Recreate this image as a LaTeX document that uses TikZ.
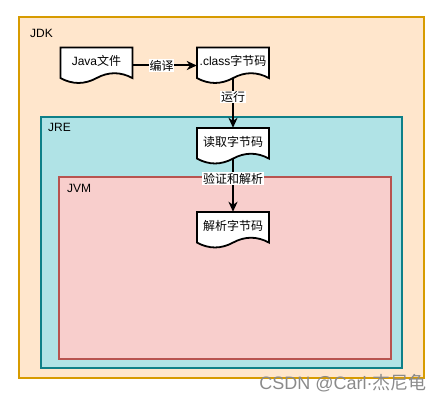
\documentclass[tikz,border=0pt]{standalone}
\usepackage{fontspec}
\setmainfont{Liberation Sans}
\newfontfamily\cjkf{Noto Sans CJK SC}
\newcommand\zh[1]{{\cjkf #1}}
\usetikzlibrary{arrows.meta,calc}
\definecolor{jdkfill}{HTML}{FFE6CC}
\definecolor{jdkline}{HTML}{D79B00}
\definecolor{jrefill}{HTML}{B0E3E6}
\definecolor{jreline}{HTML}{0E8088}
\definecolor{jvmfill}{HTML}{F8CECC}
\definecolor{jvmline}{HTML}{B85450}
\definecolor{wmgray}{HTML}{8A8A8A}
\tikzset{
  txt/.style={font=\fontsize{12}{14}\selectfont, inner sep=0pt},
  docbox/.style={minimum width=72pt, minimum height=36pt, inner sep=0pt},
  docline/.style={draw=black, fill=white, line width=1.8pt, line join=miter},
  conn/.style={line width=2pt, -{Stealth[length=10pt,width=9pt,inset=3pt]}},
  elabel/.style={txt, fill=white, inner sep=0.8pt},
  area/.style={line width=2pt},
}
\newcommand\docshape[1]{%
  \draw[docline] ($(#1.center)+(-36,-18)$) -- ($(#1.center)+(36,-18)$) -- ($(#1.center)+(36,12.6)$)
    .. controls ($(#1.center)+(24,6.1)$) and ($(#1.center)+(12,6.1)$) .. ($(#1.center)+(0,12.6)$)
    .. controls ($(#1.center)+(-12,19.1)$) and ($(#1.center)+(-24,19.1)$) .. ($(#1.center)+(-36,12.6)$) -- cycle;
  \coordinate (#1-w) at ($(#1.center)+(0,12.6)$);
}
\begin{document}
\begin{tikzpicture}[x=1pt,y=-1pt]
\useasboundingbox (0,0) rectangle (444,401);
% containers
\draw[area, draw=jdkline, fill=jdkfill] (18.5,17.5) rectangle (424,378);
\draw[area, draw=jreline, fill=jrefill] (41,117) rectangle (402,367.5);
\draw[area, draw=jvmline, fill=jvmfill] (59,177) rectangle (391,359);
\node[txt, anchor=west] (jdk) at (30,33) {JDK};
\node[txt, anchor=west] (jre) at (48,127.5) {JRE};
\node[txt, anchor=west] (jvm) at (67,188) {JVM};
% documents
\node[docbox] (java) at (96.5,65.5) {};
\docshape{java}
\node[txt] (javat) at ($(java.center)+(0,-4.5)$) {Java\zh{文件}};
\node[docbox] (class) at (233,65.5) {};
\docshape{class}
\node[txt] (classt) at ($(class.center)+(0,-4.5)$) {.class\zh{字节码}};
\node[docbox] (read) at (233,146) {};
\docshape{read}
\node[txt] (readt) at ($(read.center)+(0,-4.5)$) {\zh{读取字节码}};
\node[docbox] (parse) at (233,230) {};
\docshape{parse}
\node[txt] (parset) at ($(parse.center)+(0,-4.5)$) {\zh{解析字节码}};
% connectors
\draw[conn] (java.east) -- node[elabel, pos=0.45] (l1) {\zh{编译}} (class.west);
\draw[conn] (class-w) -- node[elabel, pos=0.38] (l2) {\zh{运行}} (read.north);
\draw[conn] (read-w) -- node[elabel, pos=0.38] (l3) {\zh{验证和解析}} (parse.north);
% watermark
\node[font=\fontsize{18}{20}\selectfont, text=wmgray, inner sep=0pt] (wm) at (343,383) {CSDN @Carl·\zh{杰尼龟}};
\end{tikzpicture}
\end{document}
